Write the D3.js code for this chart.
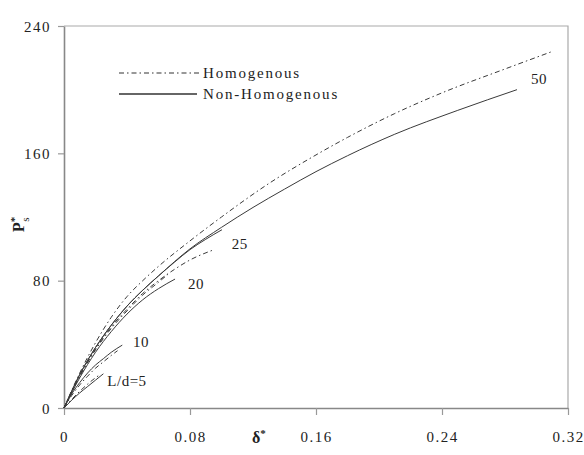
<!DOCTYPE html>
<html>
<head>
<meta charset="utf-8">
<script src="https://cdn.jsdelivr.net/npm/d3@7"></script>
<style>
  body { margin: 0; background: #fff; }
  svg { display: block; }
  text { font-family: "Liberation Serif", "Times New Roman", serif; fill: #222; }
</style>
</head>
<body>
<div id="chart"></div>
<script>
// tick values
var xTicks = [0, 0.08, 0.16, 0.24, 0.32];
var yTicks = [0, 80, 160, 240];

// curves: [delta*, P*s]
var homog50 = [[0,0],[0.01,22],[0.02,41],[0.03,57],[0.04,70],[0.05,80],[0.06,89],[0.08,105],[0.10,120],[0.13,141],[0.16,159],[0.18,170],[0.21,185],[0.24,198],[0.28,213],[0.31,224]];
var nonHomog50 = [[0,0],[0.01,21],[0.02,38],[0.03,52],[0.04,64],[0.05,74],[0.06,83],[0.08,100],[0.10,113.5],[0.12,126],[0.14,137.5],[0.16,148.5],[0.18,158.5],[0.21,172],[0.25,187],[0.2876,200]];
var homog25 = [[0,0],[0.01,20],[0.02,37],[0.03,51],[0.04,62],[0.05,72],[0.06,80],[0.07,87],[0.08,93],[0.094,99]];
var nonHomog25 = [[0,0],[0.01,21],[0.02,38],[0.03,52],[0.04,64],[0.05,74],[0.06,83],[0.07,91.5],[0.08,99.5],[0.09,106],[0.1003,112]];
var homog20 = [[0,0],[0.01,20],[0.02,36.5],[0.03,50],[0.04,61],[0.05,71],[0.06,79],[0.066,84]];
var nonHomog20 = [[0,0],[0.01,19],[0.02,35],[0.03,48],[0.04,59],[0.05,68],[0.06,75],[0.0705,81]];
var homog10 = [[0,0],[0.005,8],[0.01,14.5],[0.015,20],[0.02,25],[0.025,29],[0.03,33],[0.034,36]];
var nonHomog10 = [[0,0],[0.005,9],[0.01,16],[0.015,22],[0.02,27],[0.025,31],[0.03,35],[0.037,39.5]];
var homog5 = [[0,0],[0.005,5.5],[0.01,10.5],[0.015,15],[0.02,19],[0.023,21]];
var nonHomog5 = [[0,0],[0.005,5],[0.01,9.5],[0.015,13.5],[0.02,17.5],[0.025,21.5]];

var series = [
  {name: "Homogenous", pts: homog50, dash: true},
  {name: "Non-Homogenous", pts: nonHomog50, dash: false},
  {name: "Homogenous", pts: homog25, dash: true},
  {name: "Non-Homogenous", pts: nonHomog25, dash: false},
  {name: "Homogenous", pts: homog20, dash: true},
  {name: "Non-Homogenous", pts: nonHomog20, dash: false},
  {name: "Homogenous", pts: homog10, dash: true},
  {name: "Non-Homogenous", pts: nonHomog10, dash: false},
  {name: "Homogenous", pts: homog5, dash: true},
  {name: "Non-Homogenous", pts: nonHomog5, dash: false}
];

// curve labels: text and the point they sit at
var curveLabels = ["50", "25", "20", "10", "L/d=5"];
var labelAt = [[0.2965,207], [0.1065,103.5], [0.0787,78], [0.0438,41.5], [0.0275,17]];

var legendNames = ["Homogenous", "Non-Homogenous"];

var width = 584, height = 455;
var margin = {top: 26, right: 16, bottom: 47, left: 64};

var svg = d3.select("#chart").append("svg")
  .attr("width", width)
  .attr("height", height);

var x = d3.scaleLinear().domain([0, 0.32]).range([margin.left, width - margin.right]);
var y = d3.scaleLinear().domain([0, 240]).range([height - margin.bottom, margin.top]);

// plot border (top / right)
svg.append("path")
  .attr("d", "M" + x(0) + "," + y(240) + "H" + x(0.32) + "V" + y(0))
  .attr("fill", "none")
  .attr("stroke", "#aaa")
  .attr("stroke-width", 1.2);

// axes
var xAxis = svg.append("g")
  .attr("transform", "translate(0," + y(0) + ")")
  .call(d3.axisBottom(x).tickValues(xTicks).tickSize(7).tickSizeOuter(0)
    .tickFormat(function(d) { return d === 0 ? "0" : d3.format(".2f")(d); }));
var yAxis = svg.append("g")
  .attr("transform", "translate(" + x(0) + ",0)")
  .call(d3.axisLeft(y).tickValues(yTicks).tickSize(6).tickSizeOuter(0));

[xAxis, yAxis].forEach(function(ax) {
  ax.select(".domain").attr("stroke", "#888").attr("stroke-width", 1.6);
  ax.selectAll(".tick line").attr("stroke", "#999").attr("stroke-width", 1.2);
  ax.selectAll(".tick text")
    .style("font-family", "'Liberation Serif', serif")
    .style("font-size", "15px")
    .style("letter-spacing", "1.5px")
    .attr("fill", "#222");
});
xAxis.selectAll(".tick text").attr("dy", "1.6em");
yAxis.selectAll(".tick text").attr("x", -13).attr("dy", "0.35em");

// curves
var line = d3.line()
  .x(function(d) { return x(d[0]); })
  .y(function(d) { return y(d[1]); })
  .curve(d3.curveMonotoneX);

svg.append("g")
  .selectAll("path")
  .data(series)
  .join("path")
    .attr("d", function(d) { return line(d.pts); })
    .attr("fill", "none")
    .attr("stroke", "#3a3a3a")
    .attr("stroke-width", 1)
    .attr("stroke-dasharray", function(d) { return d.dash ? "5,3,1.5,3" : null; });

// curve labels
svg.append("g")
  .selectAll("text")
  .data(curveLabels)
  .join("text")
    .attr("x", function(d, i) { return x(labelAt[i][0]); })
    .attr("y", function(d, i) { return y(labelAt[i][1]); })
    .attr("dy", "0.35em")
    .style("font-size", "15px")
    .style("letter-spacing", "0.5px")
    .text(function(d) { return d; });

// legend
var legend = svg.append("g");
legendNames.forEach(function(name, i) {
  var ly = 73 + i * 21;
  legend.append("line")
    .attr("x1", 119).attr("x2", i === 0 ? 200 : 197)
    .attr("y1", ly).attr("y2", ly)
    .attr("stroke", "#333")
    .attr("stroke-width", i === 0 ? 1.2 : 1.4)
    .attr("stroke-dasharray", i === 0 ? "5,3,1.5,3" : null);
  legend.append("text")
    .attr("x", 203)
    .attr("y", ly)
    .attr("dy", "0.3em")
    .style("font-size", "15px")
    .style("letter-spacing", "1.8px")
    .text(name);
});

// axis titles
var xt = svg.append("text")
  .attr("x", 252)
  .attr("y", 443)
  .style("font-size", "16px")
  .style("font-weight", "bold");
xt.append("tspan").text("δ");
xt.append("tspan").attr("dy", -6).style("font-size", "11px").text("*");

var yt = svg.append("text")
  .attr("transform", "translate(24,232) rotate(-90)")
  .style("font-size", "16px")
  .style("font-weight", "bold");
yt.append("tspan").text("P");
yt.append("tspan").attr("dy", -6).style("font-size", "11px").text("*");
yt.append("tspan").attr("dx", -5).attr("dy", 11).style("font-size", "11px").style("font-weight", "normal").text("s");
</script>
</body>
</html>
